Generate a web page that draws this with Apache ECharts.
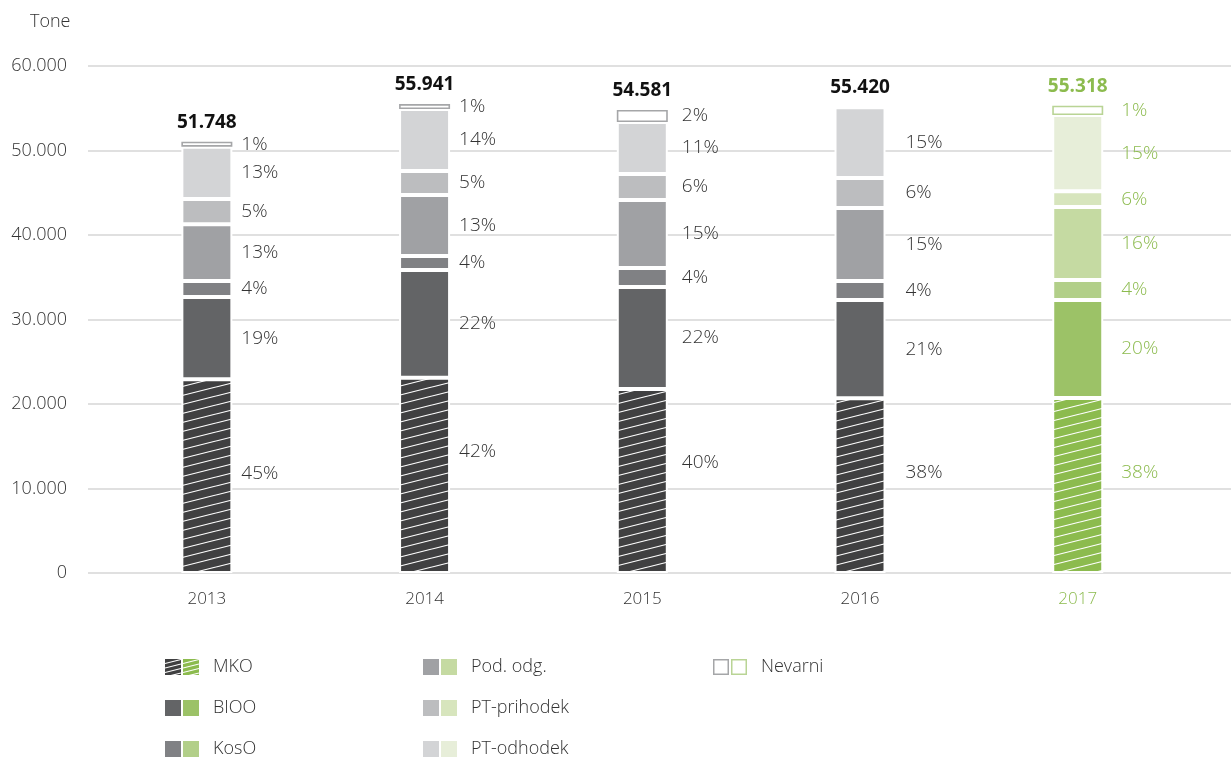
<!DOCTYPE html>
<html>
<head>
<meta charset="utf-8">
<script src="https://cdn.jsdelivr.net/npm/echarts@6/dist/echarts.min.js"></script>
<style>html,body{margin:0;padding:0;background:#fff}#c{width:1231px;height:760px}</style>
</head>
<body>
<div id="c"></div>
<script>
// ---------- data ----------
const years = ['2013', '2014', '2015', '2016', '2017'];
const seriesNames = ['MKO', 'BIOO', 'KosO', 'Pod. odg.', 'PT-prihodek', 'PT-odhodek', 'Nevarni'];
const mko        = [22920, 23110, 21780, 20670, 20710];
const bioo       = [9740, 12750, 12070, 11640, 11600];
const koso       = [1900, 1650, 2240, 2250, 2360];
const podOdg     = [6710, 7220, 8050, 8640, 8640];
const ptPrihodek = [2990, 2840, 3080, 3550, 1860];
const ptOdhodek  = [6190, 7340, 6150, 8360, 9030];
const nevarni    = [590, 590, 1420, null, 1100];
const totals     = [51748, 55941, 54581, 55420, 55318];
const pctMko        = [45, 42, 40, 38, 38];
const pctBioo       = [19, 22, 22, 21, 20];
const pctKoso       = [4, 4, 4, 4, 4];
const pctPodOdg     = [13, 13, 15, 15, 16];
const pctPtPrihodek = [5, 5, 6, 6, 6];
const pctPtOdhodek  = [13, 14, 11, 15, 15];
const pctNevarni    = [1, 1, 2, null, 1];
const yTicks = [0, 10000, 20000, 30000, 40000, 50000, 60000];

// ---------- styles ----------
const grayColors  = ['#404041', '#636466', '#808184', '#a0a1a4', '#bcbdbf', '#d3d4d6', '#ffffff'];
const greenColors = ['#8cbb4e', '#9cc267', '#b2cf89', '#c5daa2', '#d7e5bd', '#e7eed9', '#ffffff'];
const grayBorderNev = '#a5a6a8', greenBorderNev = '#b9d495';
const textGray = '#333333', textGreen = '#8cbb4e';
const labelDistance = [9, 9, 14, 20, 18];
const mkoLabelOffset = [-3, -24, -18, -13, -13];
const FONT = '"Open Sans", "Noto Sans", sans-serif';
// legend layout: [left, top] per series
const legendPos = [[165, 658], [165, 699], [165, 740], [423, 658], [423, 699], [423, 740], [713, 658]];

function fmt(v) { return String(v).replace(/\B(?=(\d{3})+(?!\d))/g, '.'); }

function hatchCanvas(base) {
  const c = document.createElement('canvas');
  c.width = 36; c.height = 9;
  const g = c.getContext('2d');
  g.fillStyle = base; g.fillRect(0, 0, 36, 9);
  g.strokeStyle = '#ffffff'; g.lineWidth = 1.1;
  for (let k = -1; k <= 1; k++) {
    g.beginPath(); g.moveTo(0, 9 + 9 * k); g.lineTo(36, 9 * k); g.stroke();
  }
  return c;
}
const hatchGray = hatchCanvas(grayColors[0]);
const hatchGreen = hatchCanvas(greenColors[0]);

function legendIcon(si) {
  const c = document.createElement('canvas');
  c.width = 43; c.height = 16;
  const g = c.getContext('2d');
  const xs = [0, 18];
  [0, 1].forEach(j => {
    const x = xs[j];
    if (si === 6) {
      g.strokeStyle = j === 0 ? grayBorderNev : greenBorderNev;
      g.lineWidth = 1.5;
      g.strokeRect(x + 0.75, 0.75, 14.5, 14.5);
    } else if (si === 0) {
      g.save();
      g.beginPath(); g.rect(x, 0, 16, 16); g.clip();
      g.fillStyle = j === 0 ? grayColors[0] : greenColors[0];
      g.fillRect(x, 0, 16, 16);
      g.strokeStyle = '#fff'; g.lineWidth = 1.1;
      for (let k = -1; k < 4; k++) {
        g.beginPath(); g.moveTo(x, 5 + 4.5 * k + 4); g.lineTo(x + 16, 5 + 4.5 * k); g.stroke();
      }
      g.restore();
    } else {
      g.fillStyle = j === 0 ? grayColors[si] : greenColors[si];
      g.fillRect(x, 0, 16, 16);
    }
  });
  return 'image://' + c.toDataURL();
}

const values = [mko, bioo, koso, podOdg, ptPrihodek, ptOdhodek, nevarni];
const pcts = [pctMko, pctBioo, pctKoso, pctPodOdg, pctPtPrihodek, pctPtOdhodek, pctNevarni];

const series = values.map((arr, si) => ({
  name: seriesNames[si],
  type: 'bar',
  stack: 'total',
  xAxisIndex: 1, yAxisIndex: 1,
  barWidth: 51,
  data: arr.map((v, i) => {
    const green = i === 4;
    let fill;
    if (si === 0) fill = { image: green ? hatchGreen : hatchGray, repeat: 'repeat' };
    else fill = green ? greenColors[si] : grayColors[si];
    return {
      value: v === null ? '-' : v,
      itemStyle: {
        color: fill,
        borderColor: si === 6 ? (green ? greenBorderNev : grayBorderNev) : '#ffffff',
        borderWidth: si === 6 ? 1.6 : 2
      },
      label: {
        show: pcts[si][i] !== null,
        color: green ? textGreen : textGray,
        distance: labelDistance[i],
        offset: si === 0 ? [0, mkoLabelOffset[i]] : [0, 0]
      }
    };
  }),
  label: {
    position: 'right',
    fontFamily: FONT, fontSize: 19, fontWeight: 300,
    formatter: p => pcts[si][p.dataIndex] + '%'
  },
  emphasis: { disabled: true }
}));

series.push({
  name: 'total',
  type: 'bar',
  stack: 'total',
  xAxisIndex: 1, yAxisIndex: 1,
  barWidth: 51,
  data: totals.map((t, i) => ({
    value: 0,
    label: { color: i === 4 ? textGreen : '#111111' }
  })),
  itemStyle: { color: 'rgba(0,0,0,0)' },
  label: {
    show: true, position: 'top', distance: 10,
    fontFamily: FONT, fontSize: 19, fontWeight: 'bold',
    formatter: p => fmt(totals[p.dataIndex])
  },
  emphasis: { disabled: true }
});

const legends = seriesNames.map((n, si) => ({
  orient: 'horizontal', left: legendPos[si][0], top: legendPos[si][1],
  padding: 0,
  itemWidth: 43, itemHeight: 16, itemGap: 0,
  selectedMode: false,
  textStyle: { fontFamily: FONT, fontSize: 18, fontWeight: 300, color: textGray },
  data: [{ name: n, icon: legendIcon(si) }]
}));

const option = {
  animation: false,
  backgroundColor: '#ffffff',
  title: {
    text: 'Tone', left: 25, top: 8,
    textStyle: { fontFamily: FONT, fontSize: 18, fontWeight: 300, color: textGray }
  },
  grid: [
    { left: 88, right: 0, top: 66, bottom: 187 },
    { left: 98, right: 44.4, top: 66, bottom: 187 }
  ],
  xAxis: [
    { gridIndex: 0, type: 'category', data: [], show: false },
    {
      gridIndex: 1, type: 'category', data: years,
      axisLine: { show: false }, axisTick: { show: false },
      axisLabel: {
        margin: 18, fontFamily: FONT, fontSize: 17, fontWeight: 300,
        color: (v, i) => (i === 4 ? textGreen : textGray)
      }
    }
  ],
  yAxis: [
    {
      gridIndex: 0, type: 'value', min: yTicks[0], max: yTicks[yTicks.length - 1],
      interval: yTicks[1] - yTicks[0],
      axisLine: { show: false }, axisTick: { show: false },
      axisLabel: { margin: 21, fontFamily: FONT, fontSize: 18, fontWeight: 300, color: textGray, formatter: v => fmt(v) },
      splitLine: { lineStyle: { color: '#d6d6d6', width: 1.5 } }
    },
    {
      gridIndex: 1, type: 'value', min: yTicks[0], max: yTicks[yTicks.length - 1],
      interval: yTicks[1] - yTicks[0], show: false, splitLine: { show: false }
    }
  ],
  legend: legends,
  series: series
};

const chart = echarts.init(document.getElementById('c'), null, { renderer: 'canvas' });
chart.setOption(option);
</script>
</body>
</html>
